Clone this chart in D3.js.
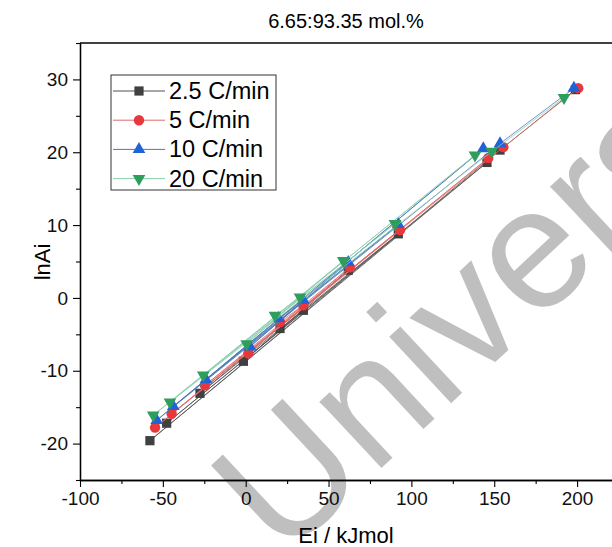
<!DOCTYPE html>
<html>
<head>
<meta charset="utf-8">
<script src="https://cdn.jsdelivr.net/npm/d3@7/dist/d3.min.js"></script>
<style>
  body { margin: 0; background: #fff; }
  svg { display: block; font-family: "Liberation Sans", Arial, sans-serif; }
</style>
</head>
<body>
<svg id="chart" width="612" height="547"></svg>
<script>
// data (points kept in the plotted order)
const rates = ["2.5 C/min", "5 C/min", "10 C/min", "20 C/min"];

const eRate25 = [199.0, 153.5, -57.8, 145.6, -47.7, 92.1, -27.6, 61.9, -1.4, 34.8, 20.7];
const lnRate25 = [28.6, 20.3, -19.6, 18.6, -17.2, 8.8, -13.1, 3.8, -8.7, -1.7, -4.2];

const eRate5 = [200.7, 155.5, -54.7, 146.4, -44.7, 93.1, -24.6, 62.9, 1.6, 34.8, 20.7];
const lnRate5 = [28.8, 20.7, -17.8, 19.2, -15.9, 9.3, -12.0, 4.2, -7.6, -1.0, -3.3];

const eRate10 = [198.1, 153.5, -53.7, 143.4, -43.7, 92.1, -24.0, 61.9, 2.6, 34.8, 19.7];
const lnRate10 = [28.8, 21.2, -16.8, 20.5, -14.9, 10.1, -11.2, 4.9, -6.7, -0.3, -2.8];

const eRate20 = [192.1, 148.5, -55.8, 138.4, -45.7, 90.1, -25.6, 58.9, 0.6, 32.8, 17.7];
const lnRate20 = [27.5, 20.1, -16.1, 19.6, -14.3, 10.2, -10.6, 5.1, -6.3, 0.1, -2.4];

const xTicks = [-100, -50, 0, 50, 100, 150, 200];
const xMinor = [-75, -25, 25, 75, 125, 175, 225];
const yTicks = [-20, -10, 0, 10, 20, 30];
const yMinor = [-25, -15, -5, 5, 15, 25, 35];

const series = [
    {name: rates[0], e: eRate25, ln: lnRate25, marker: "#404040", line: "#505050", shape: d3.symbolSquare, size: 85, rot: 0},
    {name: rates[1], e: eRate5, ln: lnRate5, marker: "#e8383d", line: "#e36a6a", shape: d3.symbolCircle, size: 85, rot: 0},
    {name: rates[2], e: eRate10, ln: lnRate10, marker: "#1f63d6", line: "#4a78b8", shape: d3.symbolTriangle, size: 70, rot: 0},
    {name: rates[3], e: eRate20, ln: lnRate20, marker: "#2f9e5c", line: "#8ccfae", shape: d3.symbolTriangle, size: 70, rot: 180}
];

const svg = d3.select("#chart");
const margin = {top: 43, left: 80, bottom: 480};

const x = d3.scaleLinear().domain([-100, 225]).range([margin.left, 618.5]);
const y = d3.scaleLinear().domain([-25, 35]).range([margin.bottom, margin.top]);

svg.append("defs").append("clipPath").attr("id", "plot")
    .append("rect").attr("x", 80).attr("y", 43).attr("width", 540).attr("height", 437);

// title
svg.append("text")
    .attr("x", 346).attr("y", 28)
    .attr("text-anchor", "middle")
    .style("font-size", "20px")
    .text("6.65:93.35 mol.%");

// frame top
svg.append("line")
    .attr("x1", 80).attr("x2", 612).attr("y1", 43).attr("y2", 43)
    .attr("stroke", "#000").attr("stroke-width", 1.3);

// data
const plot = svg.append("g").attr("clip-path", "url(#plot)");
const line = d3.line().x(d => x(d[0])).y(d => y(d[1]));

series.forEach(s => {
    const pts = s.e.map((v, i) => [v, s.ln[i]]);
    plot.append("path")
        .datum(pts)
        .attr("d", line)
        .attr("fill", "none")
        .attr("stroke", s.line)
        .attr("stroke-width", 0.8);
    plot.selectAll(null)
        .data(pts)
        .enter()
        .append("path")
        .attr("d", d3.symbol().type(s.shape).size(s.size))
        .attr("transform", d => `translate(${x(d[0])},${y(d[1])}) rotate(${s.rot})`)
        .attr("fill", s.marker);
});

// axes
const fmt = d => String(d);
svg.append("g")
    .attr("transform", `translate(0,${margin.bottom})`)
    .call(d3.axisBottom(x).tickValues(xTicks).tickSize(7).tickSizeOuter(0).tickPadding(5).tickFormat(fmt));
svg.append("g")
    .attr("transform", `translate(0,${margin.bottom})`)
    .call(d3.axisBottom(x).tickValues(xMinor).tickSize(4).tickSizeOuter(0).tickFormat(""));

svg.append("g")
    .attr("transform", `translate(${margin.left},0)`)
    .call(d3.axisLeft(y).tickValues(yTicks).tickSize(7).tickSizeOuter(0).tickPadding(5).tickFormat(fmt));
svg.append("g")
    .attr("transform", `translate(${margin.left},0)`)
    .call(d3.axisLeft(y).tickValues(yMinor).tickSize(4).tickSizeOuter(0).tickFormat(""));

svg.selectAll(".domain").attr("stroke", "#000").attr("stroke-width", 1.3);
svg.selectAll(".tick line").attr("stroke", "#000").attr("stroke-width", 1.1);
svg.selectAll(".tick text")
    .attr("fill", "#111")
    .style("font-family", "'Liberation Sans', Arial, sans-serif")
    .style("font-size", "19px");

// axis labels
svg.append("text")
    .attr("x", 346).attr("y", 543)
    .attr("text-anchor", "middle")
    .style("font-size", "22px")
    .text("Ei / kJmol");

svg.append("text")
    .attr("transform", "translate(50,262) rotate(-90)")
    .attr("text-anchor", "middle")
    .style("font-size", "22px")
    .text("lnAi");

// legend
const legend = svg.append("g");
legend.append("rect")
    .attr("x", 111).attr("y", 75).attr("width", 165).attr("height", 115)
    .attr("fill", "#fff").attr("stroke", "#333").attr("stroke-width", 1);

series.forEach((s, i) => {
    const ly = 91 + i * 29.2;
    legend.append("line")
        .attr("x1", 113).attr("x2", 165).attr("y1", ly).attr("y2", ly)
        .attr("stroke", s.line).attr("stroke-width", 1);
    legend.append("path")
        .attr("d", d3.symbol().type(s.shape).size(s.size))
        .attr("transform", `translate(139,${ly}) rotate(${s.rot})`)
        .attr("fill", s.marker);
    legend.append("text")
        .attr("x", 169).attr("y", ly + 8)
        .style("font-size", "23.5px")
        .text(s.name);
});

// watermark
svg.append("text")
    .attr("transform", "translate(282,561) rotate(-43)")
    .attr("fill", "#000")
    .attr("fill-opacity", 0.25)
    .style("font-size", "172px")
    .text("University");
</script>
</body>
</html>
